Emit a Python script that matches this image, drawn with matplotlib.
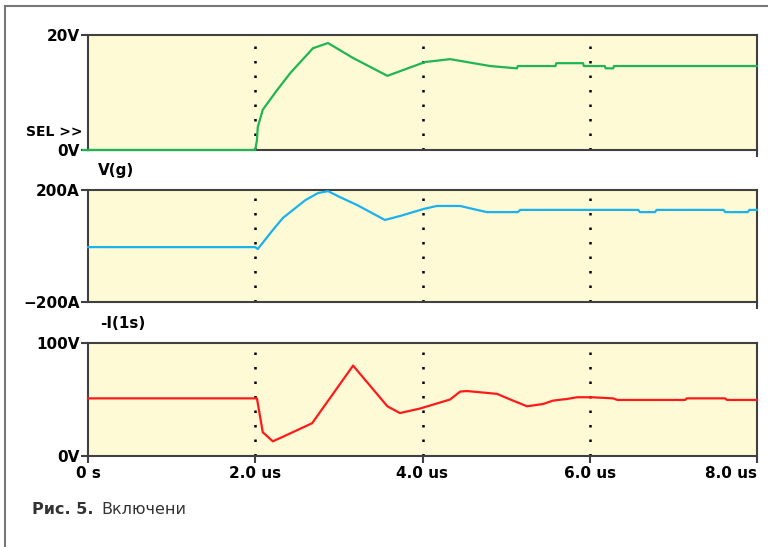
import matplotlib.pyplot as plt
from matplotlib.lines import Line2D

# V(g), upper panel (V)
t_vg = [0, 2.0, 2.02, 2.03, 2.09, 2.26, 2.42, 2.69, 2.87, 3.17, 3.58, 4.03, 4.33,
        4.81, 5.13, 5.14, 5.59, 5.60, 5.92, 5.93, 6.18, 6.19, 6.28, 6.29, 8.0]
v_vg = [0, 0, 1.7, 4.0, 7.0, 10.4, 13.4, 17.7, 18.6, 16.0, 12.9, 15.3, 15.8,
        14.6, 14.2, 14.6, 14.6, 15.1, 15.1, 14.6, 14.6, 14.2, 14.2, 14.6, 14.6]

# -I(1s), middle panel (A)
t_i = [0, 2.0, 2.03, 2.21, 2.33, 2.60, 2.75, 2.87, 3.01, 3.22, 3.55, 3.73, 4.01,
       4.17, 4.45, 4.65, 4.77, 5.14, 5.17, 6.58, 6.60, 6.78, 6.80, 7.60, 7.62,
       7.89, 7.91, 8.0]
v_i = [-4, -4, -11, 57, 100, 164, 189, 196, 175, 146, 93, 107, 132,
       143, 143, 129, 121, 121, 129, 129, 121, 121, 129, 129, 121,
       121, 129, 129]

# lower panel (V)
t_v = [0, 2.0, 2.02, 2.09, 2.21, 2.33, 2.68, 3.17, 3.58, 3.73, 3.97, 4.33, 4.45,
       4.53, 4.89, 5.05, 5.25, 5.44, 5.56, 5.73, 5.85, 6.02, 6.28, 6.33, 7.14,
       7.16, 7.62, 7.64, 8.0]
v_v = [51, 51, 51, 21, 13, 17, 29, 80, 44, 38, 42, 50, 57,
       57.5, 55, 50, 44, 46, 49, 50.5, 52, 52, 51, 49.6, 49.6,
       51, 51, 49.6, 49.6]

x_ticks = [0, 2, 4, 6, 8]
x_labels = ["0 s", "2.0 us", "4.0 us", "6.0 us", "8.0 us"]

face = "#fffad6"
edge = "#404040"

fig = plt.figure(figsize=(7.68, 5.47), dpi=100)

left = 88 / 768
width = (757 - 88) / 768
H = 547
boxes = [(35, 150), (190, 302), (343, 456)]
series = [
    (t_vg, v_vg, "#1fb552", (0, 20), ["0V", "20V"]),
    (t_i, v_i, "#19b2ee", (-200, 200), ["\u2212200A", "200A"]),
    (t_v, v_v, "#ff1a1a", (0, 100), ["0V", "100V"]),
]

axes = []
for (top, bot), (tt, vv, col, lim, ylab) in zip(boxes, series):
    ax = fig.add_axes([left, 1 - bot / H, width, (bot - top) / H])
    ax.set_facecolor(face)
    ax.set_xlim(0, 8)
    ax.set_ylim(*lim)
    for s in ax.spines.values():
        s.set_color(edge)
        s.set_linewidth(1.5)
    for xg in [2, 4, 6]:
        ax.axvline(xg, color="black", lw=1.8, ls=(0, (1, 4.8)), zorder=1)
    ax.plot(tt, vv, color=col, lw=1.6, clip_on=False, zorder=3)
    ax.set_yticks(list(lim))
    ax.set_yticklabels(ylab, fontsize=11, fontweight="bold")
    ax.tick_params(axis="y", length=5, width=1.5, color=edge, pad=1)
    axes.append(ax)

for ax in axes[:2]:
    ax.set_xticks([8])
    ax.set_xticklabels([])
    ax.tick_params(axis="x", length=5, width=1.5, color=edge)

axes[0].plot([-0.06, 0], [0, 0], color="#1fb552", lw=1.6, clip_on=False)

ax3 = axes[2]
ax3.set_xticks(x_ticks)
ax3.set_xticklabels(x_labels, fontsize=11, fontweight="bold")
ax3.tick_params(axis="x", length=5, width=1.5, color=edge, pad=2)
ax3.get_xticklabels()[-1].set_horizontalalignment("right")

fig.text(82 / 768, 1 - 132 / H, "SEL >>", fontsize=10, fontweight="bold",
         ha="right", va="center")
fig.text(98 / 768, 1 - 171 / H, "V(g)", fontsize=11, fontweight="bold",
         ha="left", va="center")
fig.text(100 / 768, 1 - 323 / H, "-I(1s)", fontsize=11, fontweight="bold",
         ha="left", va="center")

fig.text(32 / 768, 1 - 509 / H, "Рис. 5.", fontsize=11.5, fontweight="bold",
         color="#333333", ha="left", va="center")
fig.text(101 / 768, 1 - 509 / H, "Включени", fontsize=11.5, color="#333333",
         ha="left", va="center")

# outer frame
fig.add_artist(Line2D([5 / 768, 5 / 768], [0, 1 - 6 / H], color="#777777", lw=1.5))
fig.add_artist(Line2D([5 / 768, 1], [1 - 6 / H, 1 - 6 / H], color="#777777", lw=1.5))

fig.savefig("out.png", dpi=100)
